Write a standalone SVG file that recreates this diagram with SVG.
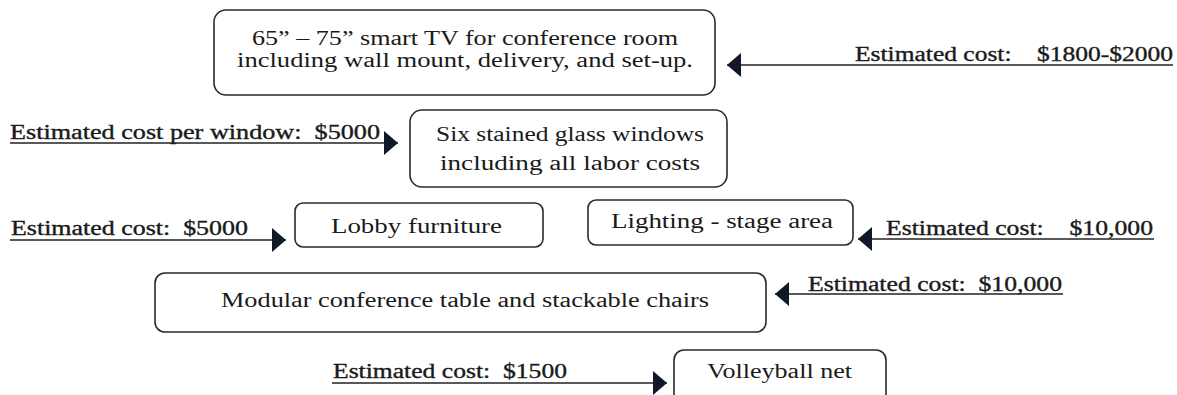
<svg xmlns="http://www.w3.org/2000/svg" width="1177" height="395" viewBox="0 0 1177 395">
<style>
.box{fill:#fff;stroke:#2a2a2a;stroke-width:1.6}
.t{font-family:"Liberation Serif","Times New Roman",serif;font-size:20px;fill:#1a1a1a}
.lbl{stroke:#1a1a1a;stroke-width:0.35}
.conn{stroke:#222;stroke-width:1.6;fill:none}
</style>
<defs>
<marker id="ah" markerUnits="userSpaceOnUse" markerWidth="15" markerHeight="26" refX="14" refY="13" orient="auto" viewBox="0 0 15 26">
<path d="M0,1 L14,13 L0,25 z" fill="#111827"/>
</marker>
</defs>
<rect width="1177" height="395" fill="#fff"/>
<g id="connectors">
<path class="conn" d="M1173,65 L727,65" marker-end="url(#ah)"/>
<path class="conn" d="M10,143 L398,143" marker-end="url(#ah)"/>
<path class="conn" d="M10,240 L286,240" marker-end="url(#ah)"/>
<path class="conn" d="M1154,239 L858,239" marker-end="url(#ah)"/>
<path class="conn" d="M1063,294 L775,294" marker-end="url(#ah)"/>
<path class="conn" d="M332,383 L667,383" marker-end="url(#ah)"/>
</g>
<g id="labels">
<text class="t lbl" x="855" y="61" textLength="318" lengthAdjust="spacingAndGlyphs" xml:space="preserve">Estimated cost:    $1800-$2000</text>
<text class="t lbl" x="10" y="139" textLength="370" lengthAdjust="spacingAndGlyphs" xml:space="preserve">Estimated cost per window:  $5000</text>
<text class="t lbl" x="11" y="235" textLength="237" lengthAdjust="spacingAndGlyphs" xml:space="preserve">Estimated cost:  $5000</text>
<text class="t lbl" x="886" y="235" textLength="267" lengthAdjust="spacingAndGlyphs" xml:space="preserve">Estimated cost:    $10,000</text>
<text class="t lbl" x="808" y="291" textLength="254" lengthAdjust="spacingAndGlyphs" xml:space="preserve">Estimated cost:  $10,000</text>
<text class="t lbl" x="333" y="378" textLength="234" lengthAdjust="spacingAndGlyphs" xml:space="preserve">Estimated cost:  $1500</text>
</g>
<g id="tv">
<rect class="box" x="214" y="10" width="501" height="85" rx="12"/>
<text class="t" x="252" y="45" textLength="426" lengthAdjust="spacingAndGlyphs">65” – 75” smart TV for conference room</text>
<text class="t" x="237" y="67" textLength="456" lengthAdjust="spacingAndGlyphs">including wall mount, delivery, and set-up.</text>
</g>
<g id="windows">
<rect class="box" x="410" y="110" width="317" height="77" rx="12"/>
<text class="t" x="436" y="141" textLength="268" lengthAdjust="spacingAndGlyphs">Six stained glass windows</text>
<text class="t" x="440" y="170" textLength="260" lengthAdjust="spacingAndGlyphs">including all labor costs</text>
</g>
<g id="lobby">
<rect class="box" x="295" y="203" width="248" height="44" rx="8"/>
<text class="t" x="331" y="233" textLength="171" lengthAdjust="spacingAndGlyphs">Lobby furniture</text>
</g>
<g id="lighting">
<rect class="box" x="588" y="200" width="265" height="45" rx="8"/>
<text class="t" x="611" y="228" textLength="222" lengthAdjust="spacingAndGlyphs">Lighting - stage area</text>
</g>
<g id="modular">
<rect class="box" x="155" y="273" width="611" height="59" rx="10"/>
<text class="t" x="221" y="307" textLength="488" lengthAdjust="spacingAndGlyphs">Modular conference table and stackable chairs</text>
</g>
<g id="volleyball">
<rect class="box" x="674" y="350" width="212" height="60" rx="10"/>
<text class="t" x="707" y="378" textLength="145" lengthAdjust="spacingAndGlyphs">Volleyball net</text>
</g>
</svg>
